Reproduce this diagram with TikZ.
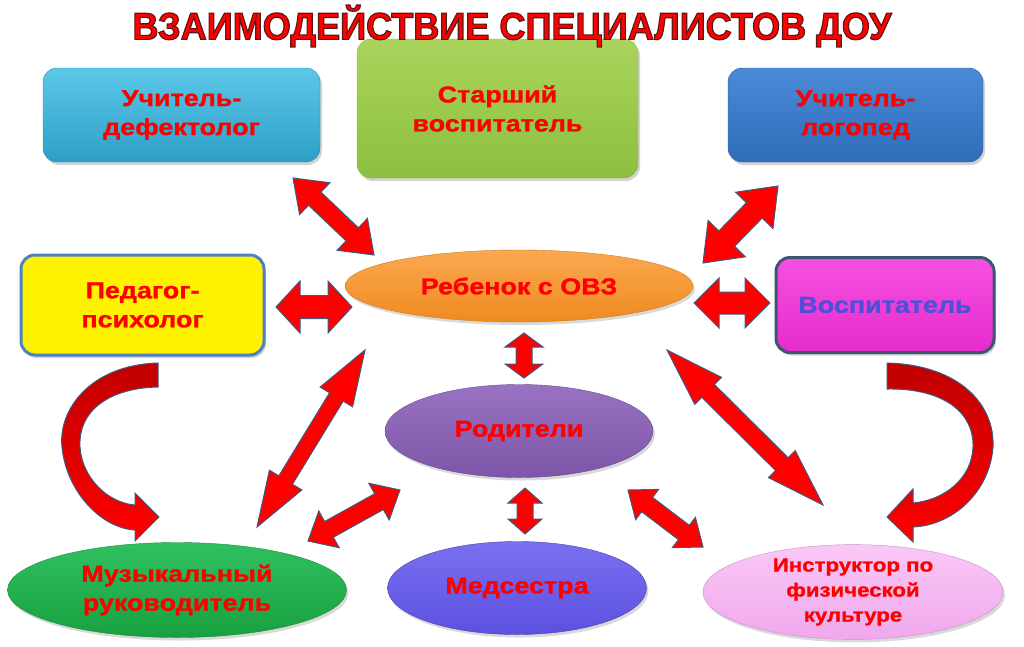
\documentclass[tikz,border=0pt]{standalone}
\usepackage{fontspec}
\setmainfont{Liberation Sans}[FakeStretch=1.17, BoldFeatures={FakeBold=1.2}]
\newfontfamily\titlefont{Liberation Sans}[FakeStretch=0.95, BoldFeatures={FakeBold=3}]
\usetikzlibrary{calc,shapes.geometric,shadows}

\definecolor{txtred}{HTML}{FF0000}
\definecolor{txtblue}{HTML}{4F4FD8}
\definecolor{arrred}{HTML}{FF0000}
\definecolor{arrdark}{HTML}{C00000}
\definecolor{arrline}{HTML}{3E5A7C}

% dark edge round the title letters
\newcommand{\titleedge}{\special{pdf:code 0.36 0.09 0.09 RG}}

\begin{document}
\begin{tikzpicture}[x=1pt,y=-1pt,
    lbl/.style={font=\fontsize{23}{29}\selectfont\bfseries, text=txtred, align=center},
    box/.style={lbl, rectangle, rounded corners=14pt, inner sep=0pt,
      drop shadow={opacity=.35, shadow xshift=2pt, shadow yshift=-3pt}},
    oval/.style={lbl, ellipse, inner sep=0pt,
      drop shadow={opacity=.3, shadow xshift=2pt, shadow yshift=-3pt}},
    fat/.style n args={3}{to path={
      -- ($($(\tikztostart)!#3!(\tikztotarget)$)!#2!90:(\tikztotarget)$)
      -- ($($(\tikztostart)!#3!(\tikztotarget)$)!#1!90:(\tikztotarget)$)
      -- ($($(\tikztotarget)!#3!(\tikztostart)$)!#1!-90:(\tikztostart)$)
      -- ($($(\tikztotarget)!#3!(\tikztostart)$)!#2!-90:(\tikztostart)$)
      -- (\tikztotarget)
      -- ($($(\tikztotarget)!#3!(\tikztostart)$)!#2!90:(\tikztostart)$)
      -- ($($(\tikztotarget)!#3!(\tikztostart)$)!#1!90:(\tikztostart)$)
      -- ($($(\tikztostart)!#3!(\tikztotarget)$)!#1!-90:(\tikztotarget)$)
      -- ($($(\tikztostart)!#3!(\tikztotarget)$)!#2!-90:(\tikztotarget)$)
      -- cycle}},
    curved/.style={draw=arrline, line width=1pt, top color=arrdark, bottom color=arrred}
  ]
  \useasboundingbox (0,0) rectangle (1024,646);

  % specialists
  \node[box, minimum width=277pt, minimum height=94pt, top color={rgb,255:red,92;green,200;blue,232}, bottom color={rgb,255:red,46;green,159;blue,200}, draw={rgb,255:red,38;green,140;blue,180}] (def) at (181.5,115) {Учитель-\\дефектолог};
  \node[box, minimum width=281pt, minimum height=139pt, top color={rgb,255:red,170;green,212;blue,92}, bottom color={rgb,255:red,140;green,191;blue,63}, draw={rgb,255:red,138;green,184;blue,72}] (star) at (497.5,108.5) {Старший\\воспитатель};
  \node[box, minimum width=255pt, minimum height=94pt, top color={rgb,255:red,74;green,138;blue,216}, bottom color={rgb,255:red,47;green,109;blue,184}, draw={rgb,255:red,40;green,95;blue,165}] (log) at (855.5,115) {Учитель-\\логопед};
  \node[box, minimum width=243pt, minimum height=100pt, fill=yellow, draw={rgb,255:red,79;green,129;blue,189}, line width=3pt] (psy) at (142.5,305) {Педагог-\\психолог};
  \node[box, minimum width=218pt, minimum height=95pt, top color={rgb,255:red,245;green,80;blue,224}, bottom color={rgb,255:red,230;green,44;blue,204}, draw={rgb,255:red,60;green,85;blue,112}, line width=3pt, text=txtblue] (vos) at (885,305) {Воспитатель};

  % ellipses
  \node[oval, minimum width=348pt, minimum height=72pt, top color={rgb,255:red,251;green,168;blue,80}, bottom color={rgb,255:red,240;green,138;blue,32}, draw={rgb,255:red,208;green,122;blue,32}] (child) at (519,286) {Ребенок с ОВЗ};
  \node[oval, minimum width=268pt, minimum height=93pt, top color={rgb,255:red,154;green,114;blue,196}, bottom color={rgb,255:red,126;green,86;blue,168}, draw={rgb,255:red,106;green,74;blue,144}] (par) at (519,431) {Родители};
  \node[oval, minimum width=259pt, minimum height=93pt, top color={rgb,255:red,122;green,112;blue,240}, bottom color={rgb,255:red,92;green,80;blue,224}, draw={rgb,255:red,74;green,64;blue,176}] (med) at (517,588) {Медсестра};
  \node[oval, minimum width=339pt, minimum height=95pt, top color={rgb,255:red,48;green,192;blue,96}, bottom color={rgb,255:red,24;green,160;blue,64}, draw={rgb,255:red,28;green,140;blue,60}] (mus) at (177,590) {Музыкальный\\руководитель};
  \node[oval, minimum width=300pt, minimum height=90pt, top color={rgb,255:red,250;green,200;blue,246}, bottom color={rgb,255:red,240;green,168;blue,236}, draw={rgb,255:red,200;green,144;blue,200}, font=\fontsize{19}{25}\selectfont\bfseries] (fiz) at (853,592) {Инструктор по\\физической\\культуре};

  % title
  \node[text=txtred, font=\titlefont\fontsize{38}{42}\selectfont\bfseries] (title) at (512,26)
    {\titleedge ВЗАИМОДЕЙСТВИЕ СПЕЦИАЛИСТОВ ДОУ};

  % arrow ends
  \coordinate (a1s) at (293,178);  \coordinate (a1t) at (374,255);
  \coordinate (a2s) at (778,186);  \coordinate (a2t) at (703,263);
  \coordinate (a3s) at (276,307);  \coordinate (a3t) at (352,307);
  \coordinate (a4s) at (694,303);  \coordinate (a4t) at (770,303);
  \coordinate (a5s) at (524,333);  \coordinate (a5t) at (524,378);
  \coordinate (a6s) at (525,488);  \coordinate (a6t) at (525,534);
  \coordinate (a7s) at (365,350);  \coordinate (a7t) at (257,527);
  \coordinate (a8s) at (667,350);  \coordinate (a8t) at (823,505);
  \coordinate (a9s) at (400,490);  \coordinate (a9t) at (308,541);
  \coordinate (a10s) at (628,490); \coordinate (a10t) at (703,547);

  \begin{scope}[every edge/.style={draw=arrline, fill=arrred, line width=1pt}]
    \path (a1s) edge[fat={9pt}{22pt}{30pt}] (a1t);
    \path (a2s) edge[fat={11pt}{26pt}{34pt}] (a2t);
    \path (a3s) edge[fat={11.5pt}{26pt}{24pt}] (a3t);
    \path (a4s) edge[fat={11pt}{25pt}{25pt}] (a4t);
    \path (a5s) edge[fat={8pt}{19pt}{14pt}] (a5t);
    \path (a6s) edge[fat={8pt}{17pt}{15pt}] (a6t);
    \path (a7s) edge[fat={8pt}{19pt}{55pt}] (a7t);
    \path (a8s) edge[fat={9pt}{19pt}{58pt}] (a8t);
    \path (a9s) edge[fat={9pt}{21pt}{24pt}] (a9t);
    \path (a10s) edge[fat={9pt}{19pt}{24pt}] (a10t);
  \end{scope}

  % curved arrows psy -> mus and vos -> fiz
  \draw[curved] (158,363) .. controls (90,365) and (58,410) .. (62,447)
    .. controls (66,490) and (100,528) .. (135,530) -- (135,541) -- (159,517)
    -- (135,493) -- (135,505) .. controls (108,503) and (82,478) .. (80,447)
    .. controls (78,410) and (110,388) .. (158,387) -- cycle;
  \draw[curved] (887,363) .. controls (960,365) and (995,405) .. (993,447)
    .. controls (990,490) and (955,525) .. (913,527) -- (913,542) -- (887,517)
    -- (913,489) -- (913,503) .. controls (945,500) and (972,478) .. (973,447)
    .. controls (974,410) and (940,388) .. (887,389) -- cycle;

\end{tikzpicture}
\end{document}
